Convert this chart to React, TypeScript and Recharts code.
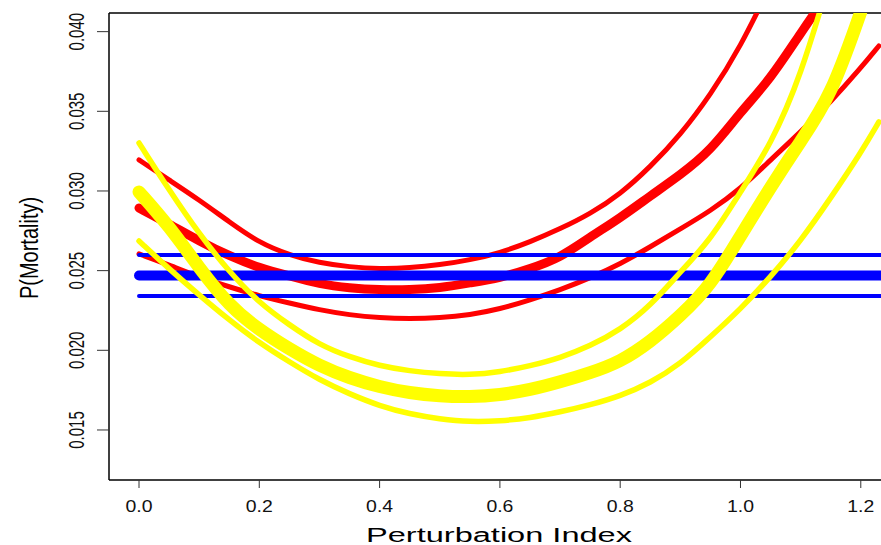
import React from 'react';
import { LineChart, Line, XAxis, YAxis, ReferenceLine, Label } from 'recharts';

// x grid (Perturbation Index) shared by the curves
const xGrid = [
  0, 0.05, 0.1, 0.15, 0.2, 0.25, 0.3, 0.35, 0.4, 0.45, 0.5, 0.55, 0.6,
  0.65, 0.7, 0.75, 0.8, 0.85, 0.9, 0.95, 1.0, 1.05, 1.1, 1.15, 1.2, 1.23,
];

// red curves
const redUpper = [
  0.03195, 0.03069, 0.02944, 0.02806, 0.02674, 0.02598, 0.02548, 0.02523, 0.02511, 0.02517, 0.02536,
  0.02567, 0.02611, 0.0268, 0.02762, 0.02856, 0.0298, 0.03151, 0.03352, 0.03603, 0.03904, 0.04293,
];
const redMid = [
  0.02893, 0.02793, 0.02686, 0.02592, 0.02517, 0.02467, 0.02416, 0.02391, 0.02379, 0.02379, 0.02391,
  0.02423, 0.02454, 0.02511, 0.0258, 0.02711, 0.02831, 0.02969, 0.03101, 0.03251, 0.03496, 0.03703,
  0.03992, 0.04262,
];
const redLower = [
  0.02605, 0.02536, 0.0246, 0.02398, 0.02341, 0.02297, 0.02253, 0.02222, 0.02203, 0.02197, 0.02203,
  0.02222, 0.02259, 0.02316, 0.02379, 0.02454, 0.02542, 0.02649, 0.02762, 0.02875, 0.03013, 0.03195,
  0.0337, 0.03559, 0.03772, 0.0391,
];

// yellow curves
const yellowUpper = [
  0.03301, 0.03006, 0.0273, 0.02492, 0.02297, 0.02159, 0.02034, 0.01958, 0.01902, 0.0187, 0.01852,
  0.01845, 0.01864, 0.01902, 0.01952, 0.02027, 0.02128, 0.02278, 0.02492, 0.02693, 0.02994, 0.03289,
  0.03716, 0.04356,
];
const yellowMid = [
  0.02994, 0.0278, 0.02517, 0.02278, 0.02128, 0.02008, 0.01902, 0.01826, 0.0177, 0.01732, 0.01713,
  0.01707, 0.0172, 0.01751, 0.01801, 0.01858, 0.01927, 0.02052, 0.02216, 0.02404, 0.02718, 0.03025,
  0.03314, 0.0359, 0.04124,
];
const yellowLower = [
  0.02686, 0.02511, 0.02347, 0.0219, 0.02046, 0.01927, 0.01814, 0.01726, 0.01651, 0.016, 0.01569,
  0.0155, 0.01556, 0.01575, 0.01613, 0.01657, 0.01713, 0.01795, 0.01914, 0.02084, 0.02259, 0.0246,
  0.02686, 0.02956, 0.03239, 0.03433,
];

// blue flat lines (start and end of each)
const blueX = [0, 1.25];
const blueUpper = [0.02598, 0.02598];
const blueMid = [0.02469, 0.02469];
const blueLower = [0.02341, 0.02341];

const xTicks = [0, 0.2, 0.4, 0.6, 0.8, 1.0, 1.2];
const yTicks = [0.015, 0.02, 0.025, 0.03, 0.035, 0.04];

const X_DOMAIN: [number, number] = [-0.0499, 1.2336];
const Y_DOMAIN: [number, number] = [0.01186, 0.04117];

const FONT = "'Liberation Sans', Arial, sans-serif";

const toRows = (xs: number[], ys: number[]) => ys.map((v, i) => ({ x: xs[i], v }));

const XTick = ({ x, payload }: any) => (
  <text
    x={x}
    y={512}
    textAnchor="middle"
    fontFamily={FONT}
    fontSize={16.5}
    fill="#111"
    textLength={27}
    lengthAdjust="spacingAndGlyphs"
  >
    {Number(payload.value).toFixed(1)}
  </text>
);

const YTick = ({ y, payload }: any) => (
  <text
    transform={`translate(84 ${y}) scale(1.45 1) rotate(-90)`}
    textAnchor="middle"
    fontFamily={FONT}
    fontSize={15}
    fill="#111"
  >
    {Number(payload.value).toFixed(3)}
  </text>
);

const series = [
  { name: 'redUpper', xs: xGrid, ys: redUpper, color: '#ff0000', width: 5 },
  { name: 'redMid', xs: xGrid, ys: redMid, color: '#ff0000', width: 9 },
  { name: 'redLower', xs: xGrid, ys: redLower, color: '#ff0000', width: 5 },
  { name: 'blueUpper', xs: blueX, ys: blueUpper, color: '#0000ff', width: 4 },
  { name: 'blueMid', xs: blueX, ys: blueMid, color: '#0000ff', width: 10 },
  { name: 'blueLower', xs: blueX, ys: blueLower, color: '#0000ff', width: 4 },
  { name: 'yellowUpper', xs: xGrid, ys: yellowUpper, color: '#ffff00', width: 5.5 },
  { name: 'yellowMid', xs: xGrid, ys: yellowMid, color: '#ffff00', width: 13 },
  { name: 'yellowLower', xs: xGrid, ys: yellowLower, color: '#ffff00', width: 5.5 },
];

export default function App() {
  return (
    <div style={{ position: 'absolute', left: 0, top: 0, background: '#fff' }}>
      <LineChart width={881} height={545} margin={{ top: 13, right: 0, bottom: 0, left: 0 }}>
        <XAxis
          dataKey="x"
          type="number"
          domain={X_DOMAIN}
          ticks={xTicks}
          allowDataOverflow
          height={65}
          tickSize={8}
          tick={<XTick />}
          axisLine={{ stroke: '#000', strokeWidth: 1.5 }}
          tickLine={{ stroke: '#333' }}
        >
          <Label
            content={() => (
              <text
                x={499}
                y={542}
                textAnchor="middle"
                fontFamily={FONT}
                fontSize={19.5}
                fill="#000"
                textLength={266}
                lengthAdjust="spacingAndGlyphs"
              >
                Perturbation Index
              </text>
            )}
          />
        </XAxis>
        <YAxis
          type="number"
          domain={Y_DOMAIN}
          ticks={yTicks}
          allowDataOverflow
          width={109}
          tickSize={12}
          tick={<YTick />}
          axisLine={{ stroke: '#000', strokeWidth: 1.5 }}
          tickLine={{ stroke: '#333' }}
        >
          <Label
            content={() => (
              <text
                transform="translate(38 248) scale(1.3 1) rotate(-90)"
                textAnchor="middle"
                fontFamily={FONT}
                fontSize={20}
                fill="#000"
              >
                P(Mortality)
              </text>
            )}
          />
        </YAxis>
        <ReferenceLine y={Y_DOMAIN[1]} stroke="#000" strokeWidth={1.5} />
        {series.map((s) => (
          <Line
            key={s.name}
            data={toRows(s.xs, s.ys)}
            dataKey="v"
            type="basis"
            stroke={s.color}
            strokeWidth={s.width}
            strokeLinecap="round"
            dot={false}
            activeDot={false}
            isAnimationActive={false}
          />
        ))}
      </LineChart>
    </div>
  );
}
